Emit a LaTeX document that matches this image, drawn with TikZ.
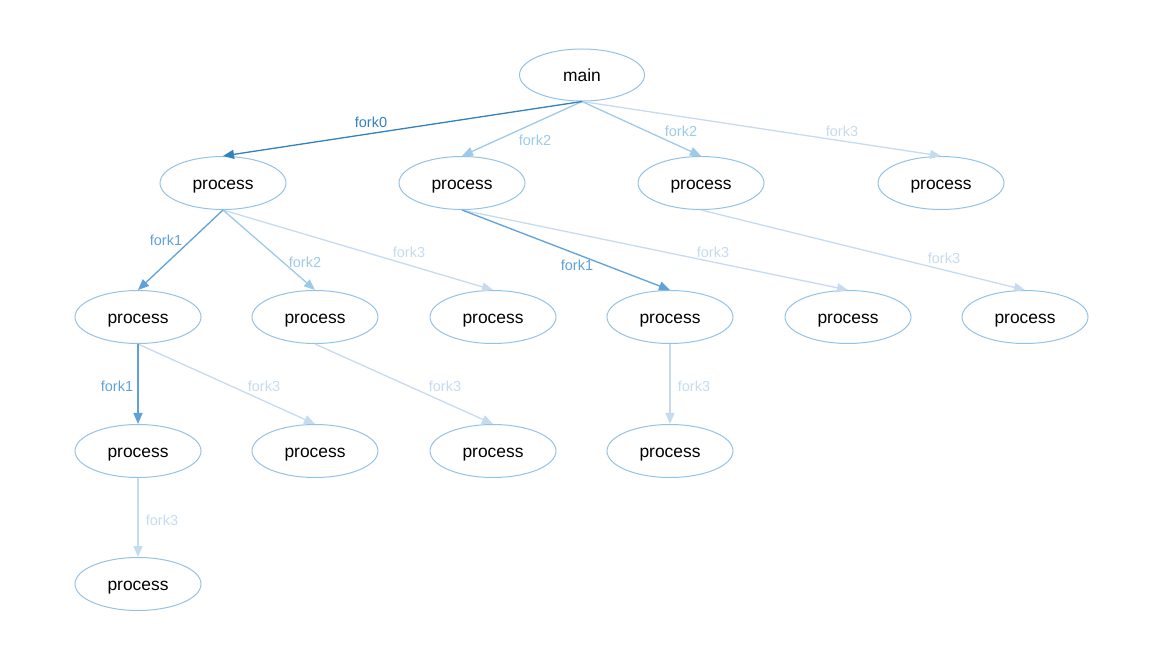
\documentclass[tikz,border=0pt]{standalone}
\usepackage{fontspec}
\setmainfont{Liberation Sans}
\usetikzlibrary{shapes.geometric,arrows.meta}
\definecolor{cA}{HTML}{3182BD}
\definecolor{cB}{HTML}{5FA2DA}
\definecolor{cC}{HTML}{9ECAE9}
\definecolor{cD}{HTML}{C6DBEF}
\definecolor{nb}{HTML}{94C2E6}
\tikzset{
  x=1pt,y=-1pt,
  proc/.style={ellipse,draw=nb,line width=1pt,minimum width=126pt,minimum height=53pt,inner sep=0pt,text height=12.5pt,text depth=0pt,font=\fontsize{17.4}{20}\selectfont,text=black},
  edge/.style={line width=1.3pt,-{Triangle[length=11pt,width=9pt]}},
  lbl/.style={font=\fontsize{14.5}{16}\selectfont,inner sep=0pt},
  e0/.style={edge,draw=cA,fill=cA},
  e1/.style={edge,draw=cB,fill=cB},
  e2/.style={edge,draw=cC,fill=cC},
  e3/.style={edge,draw=cD,fill=cD},
}
\begin{document}
\begin{tikzpicture}
\useasboundingbox (0,0) rectangle (1163,652);
\node[proc,minimum width=125pt,minimum height=52pt] (m) at (582,75) {main};
\node[proc] (a) at (223,183) {process};
\node[proc] (b) at (462,183) {process};
\node[proc] (c) at (701,183) {process};
\node[proc] (d) at (941,183) {process};
\node[proc] (a1) at (138,317) {process};
\node[proc] (a2) at (315,317) {process};
\node[proc] (a3) at (493,317) {process};
\node[proc] (b1) at (670,317) {process};
\node[proc] (b2) at (848,317) {process};
\node[proc] (c1) at (1025,317) {process};
\node[proc] (a11) at (138,451) {process};
\node[proc] (a12) at (315,451) {process};
\node[proc] (a21) at (493,451) {process};
\node[proc] (b11) at (670,451) {process};
\node[proc] (a111) at (138,584) {process};
% edges
\draw[e3] (m.south) -- (d.north);
\draw[e2] (m.south) -- (c.north);
\draw[e2] (m.south) -- (b.north);
\draw[e0] (m.south) -- (a.north);
\draw[e3] (a.south) -- (a3.north);
\draw[e2] (a.south) -- (a2.north);
\draw[e1] (a.south) -- (a1.north);
\draw[e3] (b.south) -- (b2.north);
\draw[e1] (b.south) -- (b1.north);
\draw[e3] (c.south) -- (c1.north);
\draw[e3] (a1.south) -- (a12.north);
\draw[e1] (a1.south) -- (a11.north);
\draw[e3] (a2.south) -- (a21.north);
\draw[e3] (b1.south) -- (b11.north);
\draw[e3] (a11.south) -- (a111.north);
% labels
\node[lbl,text=cA] (l1) at (371,122) {fork0};
\node[lbl,text=cC] (l2) at (535,140) {fork2};
\node[lbl,text=cC] (l3) at (681,131) {fork2};
\node[lbl,text=cD] (l4) at (842,131) {fork3};
\node[lbl,text=cB] (l5) at (166,240) {fork1};
\node[lbl,text=cC] (l6) at (305,262) {fork2};
\node[lbl,text=cD] (l7) at (409,252) {fork3};
\node[lbl,text=cB] (l8) at (577,265) {fork1};
\node[lbl,text=cD] (l9) at (713,252) {fork3};
\node[lbl,text=cD] (l10) at (944,258) {fork3};
\node[lbl,text=cB] (l11) at (117,386) {fork1};
\node[lbl,text=cD] (l12) at (264,386) {fork3};
\node[lbl,text=cD] (l13) at (445,386) {fork3};
\node[lbl,text=cD] (l14) at (694,386) {fork3};
\node[lbl,text=cD] (l15) at (162,520) {fork3};
\end{tikzpicture}
\end{document}
